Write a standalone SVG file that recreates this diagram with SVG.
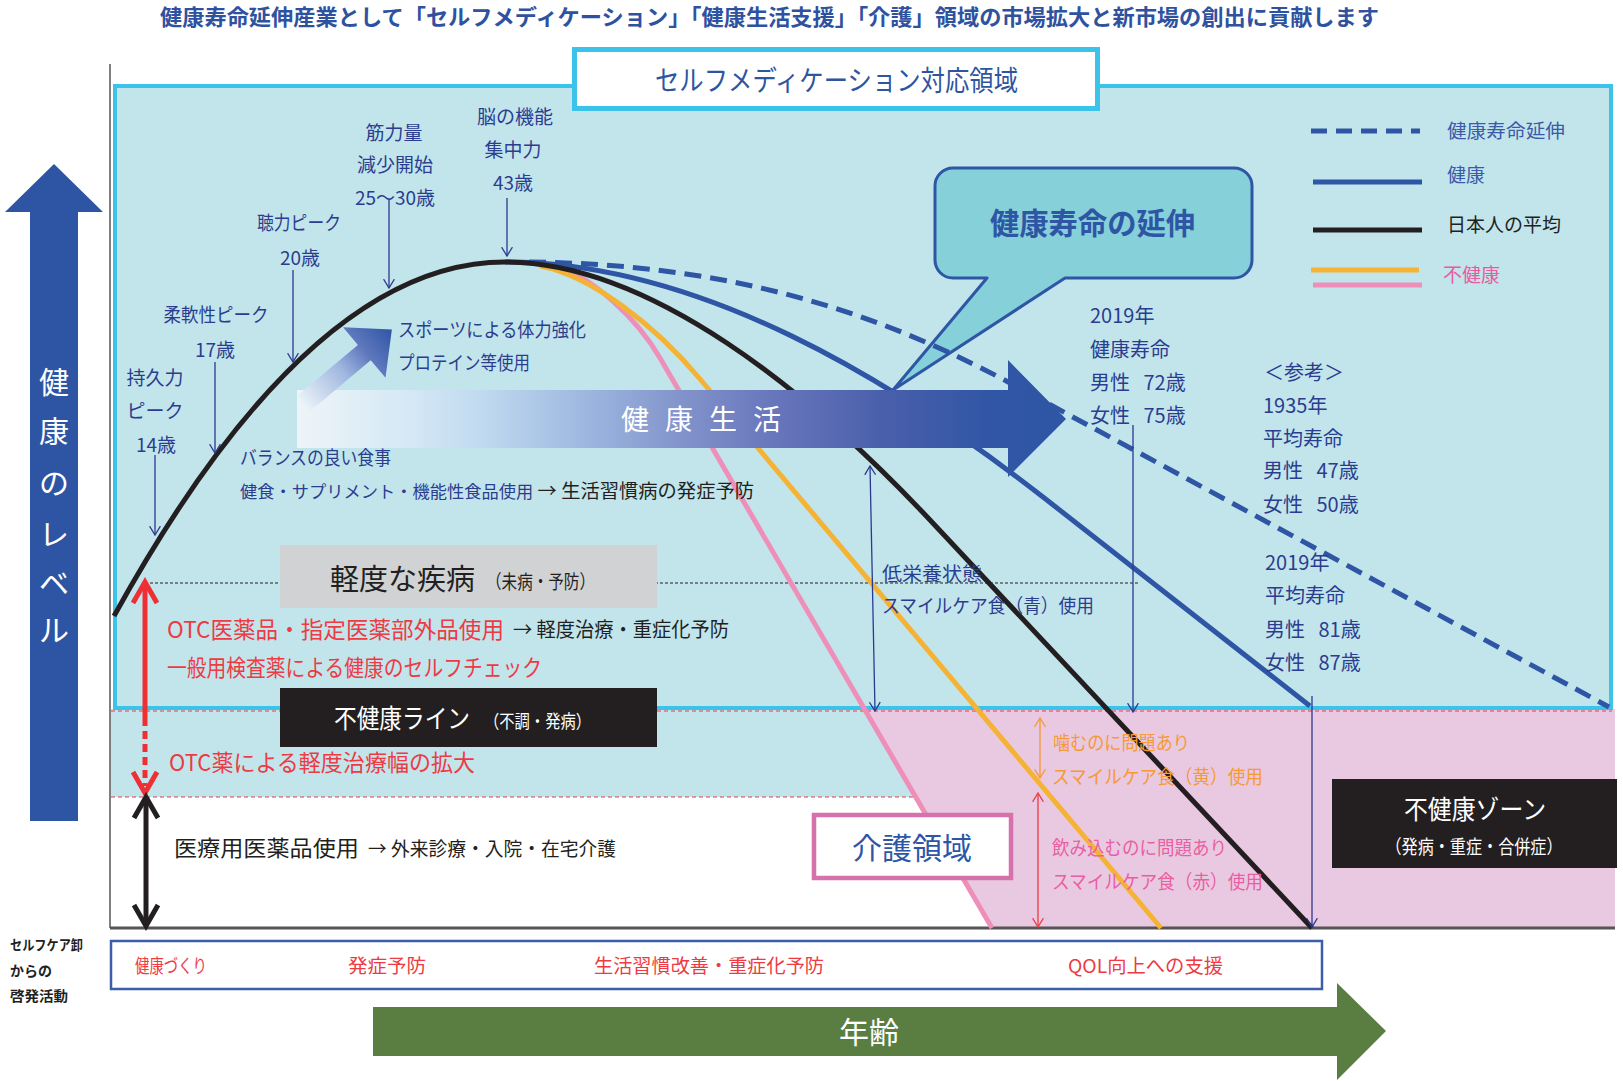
<svg xmlns="http://www.w3.org/2000/svg" width="1623" height="1081" viewBox="0 0 1623 1081">
<defs>
<style>
text{font-family:"Noto Sans CJK JP","Noto Sans",sans-serif;}
.nv{fill:#2b3d8f;font-size:19px;}
.c{text-anchor:middle;}
.rd{fill:#ee3a43;}
.bk{fill:#231f20;}
.wh{fill:#ffffff;}
.thin{fill:none;stroke:#2b3990;stroke-width:1.3;}
.crv{fill:none;stroke-width:5;}
</style>
<linearGradient id="gLife" gradientUnits="userSpaceOnUse" x1="297" y1="0" x2="1066" y2="0">
<stop offset="0" stop-color="#eef4f8"/>
<stop offset="0.14" stop-color="#d6e9f5"/>
<stop offset="0.24" stop-color="#c0daf0"/>
<stop offset="0.39" stop-color="#9ab3de"/>
<stop offset="0.49" stop-color="#8496cc"/>
<stop offset="0.61" stop-color="#6a78bd"/>
<stop offset="0.76" stop-color="#4a5fab"/>
<stop offset="0.9" stop-color="#3156a5"/>
<stop offset="1" stop-color="#2e56a5"/>
</linearGradient>
<linearGradient id="gSport" gradientUnits="userSpaceOnUse" x1="0" y1="0" x2="116" y2="0">
<stop offset="0" stop-color="#eaf3f9"/>
<stop offset="0.45" stop-color="#9fb6df"/>
<stop offset="0.7" stop-color="#5f78bd"/>
<stop offset="1" stop-color="#2e56a5"/>
</linearGradient>
<marker id="mNv" viewBox="0 0 10 12" refX="9.4" refY="6" markerWidth="10" markerHeight="12" markerUnits="userSpaceOnUse" orient="auto-start-reverse">
<path d="M0.6,0.6 L9.4,6 L0.6,11.4" fill="none" stroke="#2b3990" stroke-width="1.3"/>
</marker>
<marker id="mOr" viewBox="0 0 10 12" refX="9.4" refY="6" markerWidth="10" markerHeight="12" markerUnits="userSpaceOnUse" orient="auto-start-reverse">
<path d="M0.6,0.6 L9.4,6 L0.6,11.4" fill="none" stroke="#f59a35" stroke-width="1.3"/>
</marker>
<marker id="mRd" viewBox="0 0 10 12" refX="9.4" refY="6" markerWidth="10" markerHeight="12" markerUnits="userSpaceOnUse" orient="auto-start-reverse">
<path d="M0.6,0.6 L9.4,6 L0.6,11.4" fill="none" stroke="#ee3a43" stroke-width="1.3"/>
</marker>
</defs>

<rect x="0" y="0" width="1623" height="1081" fill="#ffffff"/>

<!-- title -->
<g id="title">
<text x="160" y="25" font-size="22" font-weight="bold" fill="#2f52a0" textLength="1219" lengthAdjust="spacingAndGlyphs">健康寿命延伸産業として「セルフメディケーション」「健康生活支援」「介護」領域の市場拡大と新市場の創出に貢献します</text>
</g>

<!-- zones -->
<g id="zones">
<rect x="115" y="86" width="1496" height="622" fill="#c2e5ec"/>
<path d="M111,709 L866,709 L916,797 L111,797 Z" fill="#c2e5ec"/>
<path d="M866,709 L1615,709 L1615,928 L992,928 Z" fill="#e9c9e1"/>
<rect x="115" y="86" width="1496" height="622" fill="none" stroke="#3cc3ea" stroke-width="4"/>
<line x1="111" y1="711" x2="1612" y2="711" stroke="#ee3a43" stroke-width="1.2" stroke-dasharray="4,3"/>
<line x1="111" y1="797" x2="914" y2="797" stroke="#ee3a43" stroke-width="1.2" stroke-dasharray="4,3"/>
<line x1="145" y1="583" x2="1140" y2="583" stroke="#231f20" stroke-width="1" stroke-dasharray="3,2"/>
</g>

<!-- axes -->
<g id="axes">
<line x1="110" y1="64" x2="110" y2="928" stroke="#555555" stroke-width="1.5"/>
<line x1="110" y1="928" x2="1615" y2="928" stroke="#555555" stroke-width="3"/>
</g>

<!-- health level arrow -->
<g id="node-health-level">
<path d="M54,164 L103,212 L78,212 L78,821 L30,821 L30,212 L5,212 Z" fill="#2e55a3"/>
<text class="wh c" x="54" y="393" font-size="30">健</text>
<text class="wh c" x="54" y="442" font-size="30">康</text>
<text class="wh c" x="54" y="494" font-size="30">の</text>
<text class="wh c" x="54" y="545" font-size="30">レ</text>
<text class="wh c" x="54" y="594" font-size="30">ベ</text>
<text class="wh c" x="54" y="641" font-size="30">ル</text>
</g>

<!-- self medication box -->
<g id="node-selfmed">
<rect x="574.5" y="49.5" width="523" height="59" fill="#ffffff" stroke="#3cc3ea" stroke-width="5"/>
<text x="655" y="91" font-size="28" fill="#2e55a0" textLength="363" lengthAdjust="spacingAndGlyphs">セルフメディケーション対応領域</text>
</g>

<!-- speech bubble -->
<g id="node-bubble">
<path d="M953,168 H1234 A18,18 0 0 1 1252,186 V260 A18,18 0 0 1 1234,278 H1065 L893,390 L987,278 H953 A18,18 0 0 1 935,260 V186 A18,18 0 0 1 953,168 Z" fill="#85d0d9" stroke="#2e56a5" stroke-width="3" stroke-linejoin="round"/>
<text x="990" y="234" font-size="30" font-weight="bold" fill="#2e56a5" textLength="205" lengthAdjust="spacingAndGlyphs">健康寿命の延伸</text>
</g>

<!-- legend -->
<g id="legend">
<line x1="1311" y1="131" x2="1420" y2="131" stroke="#2e56a5" stroke-width="5" stroke-dasharray="16,9"/>
<line x1="1313" y1="182" x2="1422" y2="182" stroke="#2e56a5" stroke-width="5"/>
<line x1="1313" y1="230" x2="1422" y2="230" stroke="#231f20" stroke-width="5"/>
<line x1="1311" y1="270" x2="1419" y2="270" stroke="#f5b335" stroke-width="5"/>
<line x1="1313" y1="285" x2="1422" y2="285" stroke="#ee8fba" stroke-width="5"/>
<text x="1447" y="138" font-size="19" fill="#3b5ba8" textLength="118" lengthAdjust="spacingAndGlyphs">健康寿命延伸</text>
<text x="1447" y="182" font-size="19" fill="#3b5ba8">健康</text>
<text x="1447" y="232" font-size="19" fill="#231f20" textLength="114" lengthAdjust="spacingAndGlyphs">日本人の平均</text>
<text x="1443" y="282" font-size="19" fill="#e95aa0">不健康</text>
</g>

<!-- curves -->
<g id="curves">
<path class="crv" stroke="#ee8fba" stroke-width="4.5" d="M566,270 C592,280 635,315 660,358 L992,928"/>
<path class="crv" stroke="#f5b335" d="M540,266 C590,275 655,325 700,379 L1161,928"/>
<path class="crv" stroke="#2e56a5" d="M505,262 C700,262 893,380 1043,497 L1310,706"/>
<path class="crv" stroke="#2e56a5" stroke-dasharray="17,9" d="M529,262 C700,264 850,297 1010,383 L1609,707"/>
<path class="crv" stroke="#231f20" d="M114,616 Q309.5,262 505,262 C650,262 810,392 930,520 L1312,928"/>
</g>

<!-- health life arrow -->
<g id="node-health-life">
<path d="M297,390 L1008,390 L1008,360 L1066,419 L1008,477 L1008,448 L297,448 Z" fill="url(#gLife)"/>
<text x="621" y="430" font-size="28" fill="#ffffff" textLength="160" lengthAdjust="spacing">健康生活</text>
</g>

<!-- sport arrow -->
<g id="node-sport">
<g transform="translate(303,404) rotate(-40)">
<path d="M0,-10 L80,-10 L80,-33 L116,0 L80,33 L80,10 L0,10 Z" fill="url(#gSport)"/>
</g>
<text class="nv" x="398" y="337" textLength="188" lengthAdjust="spacingAndGlyphs">スポーツによる体力強化</text>
<text class="nv" x="398" y="370" textLength="132" lengthAdjust="spacingAndGlyphs">プロテイン等使用</text>
</g>

<!-- diet text -->
<g id="node-diet">
<text class="nv" x="240" y="465" textLength="151" lengthAdjust="spacingAndGlyphs">バランスの良い食事</text>
<text x="240" y="498" font-size="19" xml:space="preserve" textLength="514" lengthAdjust="spacingAndGlyphs"><tspan fill="#2b3d8f" font-size="17">健食・サプリメント・機能性食品使用</tspan><tspan fill="#231f20"> → 生活習慣病の発症予防</tspan></text>
</g>

<!-- peak labels -->
<g id="node-peaks">
<text class="nv c" x="155" y="385">持久力</text>
<text class="nv c" x="155" y="418">ピーク</text>
<text class="nv c" x="156" y="452">14歳</text>
<text class="nv c" x="216" y="322" textLength="105" lengthAdjust="spacingAndGlyphs">柔軟性ピーク</text>
<text class="nv c" x="215" y="357">17歳</text>
<text class="nv c" x="299" y="230" textLength="84" lengthAdjust="spacingAndGlyphs">聴力ピーク</text>
<text class="nv c" x="300" y="265">20歳</text>
<text class="nv c" x="394" y="140">筋力量</text>
<text class="nv c" x="395" y="172">減少開始</text>
<text class="nv c" x="395" y="205">25～30歳</text>
<text class="nv c" x="515" y="124">脳の機能</text>
<text class="nv c" x="513" y="157">集中力</text>
<text class="nv c" x="513" y="190">43歳</text>
</g>

<!-- life expectancy texts -->
<g id="node-lifespan" font-size="20" fill="#2b3d8f">
<text x="1090" y="323">2019年</text>
<text x="1090" y="357">健康寿命</text>
<text x="1090" y="390" xml:space="preserve">男性   72歳</text>
<text x="1090" y="423" xml:space="preserve">女性   75歳</text>
<text x="1264" y="380">＜参考＞</text>
<text x="1263" y="413">1935年</text>
<text x="1263" y="446">平均寿命</text>
<text x="1263" y="478" xml:space="preserve">男性   47歳</text>
<text x="1263" y="512" xml:space="preserve">女性   50歳</text>
<text x="1265" y="570">2019年</text>
<text x="1265" y="603">平均寿命</text>
<text x="1265" y="637" xml:space="preserve">男性   81歳</text>
<text x="1265" y="670" xml:space="preserve">女性   87歳</text>
</g>

<!-- nutrition text -->
<g id="node-nutrition">
<text class="nv" x="882" y="581" textLength="100" lengthAdjust="spacingAndGlyphs">低栄養状態</text>
<text class="nv" x="882" y="613" textLength="212" lengthAdjust="spacingAndGlyphs">スマイルケア食（青）使用</text>
</g>

<!-- mild disease -->
<g id="node-mild">
<rect x="280" y="545" width="377" height="63" fill="#d1d2d4"/>
<text x="330" y="590" font-size="29" fill="#231f20" textLength="145" lengthAdjust="spacingAndGlyphs">軽度な疾病</text>
<text x="486" y="589" font-size="19" fill="#231f20" textLength="109" lengthAdjust="spacingAndGlyphs">（未病・予防）</text>
</g>

<!-- OTC texts -->
<g id="node-otc">
<text class="rd" x="167" y="638" font-size="23" textLength="337" lengthAdjust="spacingAndGlyphs">OTC医薬品・指定医薬部外品使用</text>
<text class="bk" x="513" y="637" font-size="20" textLength="216" lengthAdjust="spacingAndGlyphs">→ 軽度治療・重症化予防</text>
<text class="rd" x="167" y="676" font-size="23" textLength="375" lengthAdjust="spacingAndGlyphs">一般用検査薬による健康のセルフチェック</text>
<text class="rd" x="169" y="771" font-size="23" textLength="306" lengthAdjust="spacingAndGlyphs">OTC薬による軽度治療幅の拡大</text>
</g>

<!-- unhealthy line -->
<g id="node-unhealthy-line">
<rect x="280" y="688" width="377" height="59" fill="#231f20"/>
<text class="wh" x="334" y="728" font-size="26" textLength="136" lengthAdjust="spacingAndGlyphs">不健康ライン</text>
<text class="wh" x="484" y="728" font-size="18" textLength="107" lengthAdjust="spacingAndGlyphs">（不調・発病）</text>
</g>

<!-- medical -->
<g id="node-medical">
<text class="bk" x="174" y="856" font-size="22" textLength="185" lengthAdjust="spacingAndGlyphs">医療用医薬品使用</text>
<text class="bk" x="368" y="856" font-size="19" textLength="248" lengthAdjust="spacingAndGlyphs">→ 外来診療・入院・在宅介護</text>
</g>

<!-- care region -->
<g id="node-care">
<rect x="814" y="815" width="197" height="63" fill="#ffffff" stroke="#d672ab" stroke-width="4.5"/>
<text x="912" y="859" font-size="30" fill="#2e56a5" class="c" textLength="120" lengthAdjust="spacingAndGlyphs">介護領域</text>
</g>

<!-- smile care texts -->
<g id="node-smilecare" font-size="19">
<text x="1053" y="750" fill="#f59a35" textLength="137" lengthAdjust="spacingAndGlyphs">噛むのに問題あり</text>
<text x="1052" y="784" fill="#f59a35" textLength="211" lengthAdjust="spacingAndGlyphs">スマイルケア食（黄）使用</text>
<text x="1052" y="855" fill="#ea5ea2" textLength="175" lengthAdjust="spacingAndGlyphs">飲み込むのに問題あり</text>
<text x="1052" y="889" fill="#ea5ea2" textLength="211" lengthAdjust="spacingAndGlyphs">スマイルケア食（赤）使用</text>
</g>

<!-- unhealthy zone -->
<g id="node-unhealthy-zone">
<rect x="1332" y="779" width="285" height="89" fill="#231f20"/>
<text class="wh c" x="1475" y="819" font-size="26" textLength="142" lengthAdjust="spacingAndGlyphs">不健康ゾーン</text>
<text class="wh c" x="1474" y="854" font-size="19" textLength="177" lengthAdjust="spacingAndGlyphs">（発病・重症・合併症）</text>
</g>

<!-- bottom activity box -->
<g id="node-activity">
<text x="10" y="950" font-size="14" font-weight="bold" fill="#231f20" textLength="73" lengthAdjust="spacingAndGlyphs">セルフケア卸</text>
<text x="10" y="976" font-size="14" font-weight="bold" fill="#231f20">からの</text>
<text x="10" y="1001" font-size="14" font-weight="bold" fill="#231f20" textLength="58" lengthAdjust="spacingAndGlyphs">啓発活動</text>
<rect x="111" y="941" width="1211" height="48" fill="#ffffff" stroke="#3b5ea8" stroke-width="2.5"/>
<text class="rd" x="135" y="973" font-size="19" textLength="72" lengthAdjust="spacingAndGlyphs">健康づくり</text>
<text class="rd" x="348" y="973" font-size="19" textLength="78" lengthAdjust="spacingAndGlyphs">発症予防</text>
<text class="rd" x="594" y="973" font-size="19" textLength="230" lengthAdjust="spacingAndGlyphs">生活習慣改善・重症化予防</text>
<text class="rd" x="1068" y="973" font-size="19" textLength="155" lengthAdjust="spacingAndGlyphs">QOL向上への支援</text>
</g>

<!-- age arrow -->
<g id="node-age">
<path d="M373,1007 L1337,1007 L1337,983 L1386,1031 L1337,1080 L1337,1056 L373,1056 Z" fill="#5a7e41"/>
<text class="wh c" x="869" y="1043" font-size="30">年齢</text>
</g>

<!-- connectors -->
<g id="connectors">
<line class="thin" x1="155" y1="455" x2="155" y2="535" marker-end="url(#mNv)"/>
<line class="thin" x1="215" y1="362" x2="215" y2="453" marker-end="url(#mNv)"/>
<line class="thin" x1="293" y1="270" x2="293" y2="362" marker-end="url(#mNv)"/>
<line class="thin" x1="389" y1="200" x2="389" y2="288" marker-end="url(#mNv)"/>
<line class="thin" x1="507" y1="198" x2="507" y2="256" marker-end="url(#mNv)"/>
<line class="thin" x1="870" y1="466" x2="875" y2="711" marker-start="url(#mNv)" marker-end="url(#mNv)"/>
<line class="thin" x1="1133" y1="425" x2="1133" y2="712" marker-end="url(#mNv)"/>
<line class="thin" x1="1312" y1="696" x2="1312" y2="927" marker-end="url(#mNv)"/>
<line x1="1040" y1="718" x2="1040" y2="778" stroke="#f59a35" stroke-width="1.3" marker-start="url(#mOr)" marker-end="url(#mOr)"/>
<line x1="1038" y1="793" x2="1038" y2="927" stroke="#ee3a43" stroke-width="1.3" marker-start="url(#mRd)" marker-end="url(#mRd)"/>
<!-- red OTC range arrow -->
<line x1="145" y1="584" x2="145" y2="726" stroke="#ee3035" stroke-width="5"/>
<line x1="145" y1="731" x2="145" y2="786" stroke="#ee3035" stroke-width="5" stroke-dasharray="8,5"/>
<path d="M133,603 L145,582 L157,603" fill="none" stroke="#ee3035" stroke-width="5"/>
<path d="M133,772 L145,793 L157,772" fill="none" stroke="#ee3035" stroke-width="5"/>
<!-- black medical arrow -->
<line x1="146" y1="799" x2="146" y2="923" stroke="#231f20" stroke-width="5"/>
<path d="M134,818 L146,797 L158,818" fill="none" stroke="#231f20" stroke-width="5"/>
<path d="M134,905 L146,926 L158,905" fill="none" stroke="#231f20" stroke-width="5"/>
</g>
</svg>
